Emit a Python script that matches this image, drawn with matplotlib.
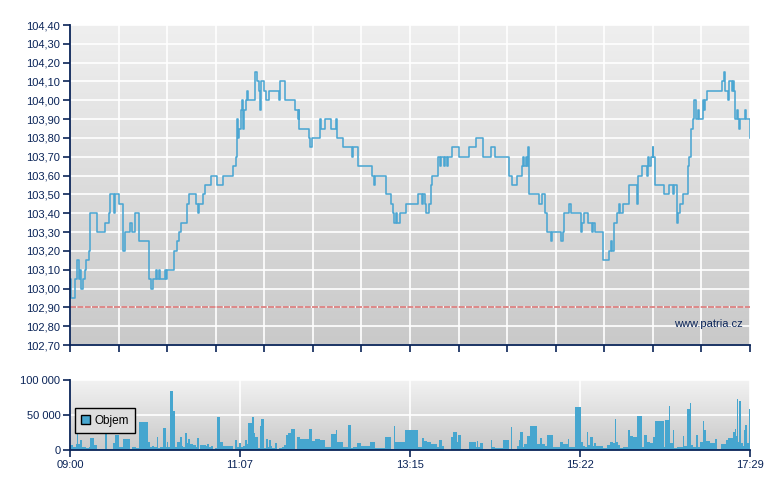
import numpy as np
import matplotlib
matplotlib.use('Agg')
import matplotlib.pyplot as plt
from matplotlib.patches import Patch

plt.rcParams['font.family'] = ['Liberation Sans', 'DejaVu Sans']

# intraday price, minutes after 09:00 and price at each change
price_t = [0, 1, 4, 5.5, 6.5, 7.5, 8.5, 9.7, 11, 12.2, 14.2, 15.2, 20.4, 26, 29.2,
           29.7, 32.7, 33.4, 36.4, 39.7, 40.9, 44.7, 46.4, 48.9, 51.6, 58.9, 60.9,
           62.1, 64.6, 65.4, 66.4, 67.1, 70.9, 71.6, 72.4, 77.8, 79.8, 81.4, 82.9,
           87.8, 88.8, 94.5, 95.8, 96.6, 99.3, 100.8, 105.8, 110.3, 114.5, 122.3,
           124, 124.8, 125.5, 126.3, 128, 129, 129.7, 130.5, 131.5, 132.2, 133.5,
           138.7, 140.2, 141.2, 142.2, 143, 145.4, 146.7, 149.2, 156.7, 157.4,
           160.9, 168.6, 170.7, 171.2, 171.6, 179.1, 179.6, 180.9, 187.1, 187.9,
           191.1, 195.4, 199.1, 199.6, 204.6, 211.3, 212.1, 215.3, 226, 227.5,
           228.3, 236.3, 240.3, 241.5, 242.5, 243.8, 245, 247, 251.2, 260.7, 263.2,
           264.5, 265.7, 266.5, 268.7, 270, 271.2, 275.7, 277, 277.7, 279.9, 280.9,
           282, 282.7, 285.9, 291.2, 298.9, 303.9, 308.9, 315.1, 318.1, 328.8,
           330.6, 334.8, 338.1, 339.3, 340, 341.1, 341.8, 342.6, 343.6, 351, 353.5,
           355.5, 356.8, 360, 361, 367.5, 368.8, 369.5, 373.7, 374.7, 382.2, 383,
           384.7, 388, 391, 391.7, 392.7, 399, 403.4, 404.7, 405.9, 407.2, 409.7,
           410.7, 411.7, 414.2, 418.4, 424.7, 425.4, 428.1, 431.6, 432.6, 433.6,
           434.6, 436.1, 436.6, 438.1, 444.4, 448.6, 451.1, 452.1, 454.1, 455.3,
           456.6, 458.6, 462.3, 463.6, 464.6, 466.1, 467, 468.3, 469.8, 471, 474,
           474.8, 475.5, 477, 487.8, 489.5, 490.5, 492.3, 493.3, 495.5, 496, 497,
           498, 499, 499.8, 501, 501.5, 505.2, 506, 508.7]
price = [103.05, 102.95, 103.05, 103.15, 103.05, 103.10, 103.00, 103.05, 103.10,
         103.15, 103.20, 103.40, 103.30, 103.35, 103.40, 103.50, 103.40, 103.50,
         103.45, 103.20, 103.30, 103.35, 103.30, 103.40, 103.25, 103.05, 103.00,
         103.05, 103.10, 103.05, 103.10, 103.05, 103.10, 103.05, 103.10, 103.20,
         103.25, 103.30, 103.35, 103.45, 103.50, 103.45, 103.40, 103.45, 103.50,
         103.55, 103.60, 103.55, 103.60, 103.65, 103.70, 103.90, 103.80, 103.85,
         103.95, 104.00, 103.85, 103.95, 104.00, 104.05, 104.00, 104.15, 104.10,
         104.05, 103.95, 104.10, 104.05, 104.00, 104.05, 104.00, 104.10, 104.00,
         103.95, 103.90, 103.95, 103.85, 103.80, 103.75, 103.80, 103.90, 103.85,
         103.90, 103.85, 103.90, 103.80, 103.75, 103.70, 103.75, 103.65, 103.60,
         103.55, 103.60, 103.50, 103.45, 103.40, 103.35, 103.40, 103.35, 103.40,
         103.45, 103.50, 103.45, 103.50, 103.45, 103.40, 103.45, 103.55, 103.60,
         103.70, 103.65, 103.70, 103.65, 103.70, 103.65, 103.70, 103.75, 103.70,
         103.75, 103.80, 103.70, 103.75, 103.70, 103.60, 103.55, 103.60, 103.65,
         103.70, 103.65, 103.70, 103.65, 103.75, 103.50, 103.45, 103.50, 103.40,
         103.30, 103.25, 103.30, 103.25, 103.30, 103.40, 103.45, 103.40, 103.30,
         103.35, 103.40, 103.35, 103.30, 103.35, 103.30, 103.15, 103.20, 103.25,
         103.20, 103.35, 103.40, 103.45, 103.40, 103.45, 103.55, 103.45, 103.60,
         103.65, 103.60, 103.70, 103.65, 103.70, 103.75, 103.70, 103.55, 103.50,
         103.55, 103.50, 103.55, 103.35, 103.40, 103.45, 103.50, 103.65, 103.70,
         103.85, 103.90, 104.00, 103.90, 103.95, 103.90, 104.00, 103.95, 104.00,
         104.05, 104.10, 104.15, 104.05, 104.00, 104.10, 104.05, 104.10, 104.05,
         103.90, 103.95, 103.90, 103.85, 103.90, 103.95, 103.90, 103.80]
prev_close = 102.90

# volume, start of each interval (minutes after 09:00) and traded amount
vol_t = [0, 2.5, 4.5, 5.5, 6, 7.5, 9, 10.5, 12, 14, 15, 18, 20.5, 26.2, 28, 30, 32.4,
         33.7, 36.7, 39.9, 44.9, 46.7, 49.1, 51.6, 58.1, 59.9, 61.4, 62.9, 64.9,
         66.1, 67.4, 69.4, 71.6, 72.4, 73.6, 74.8, 77.3, 78.6, 79.8, 82.3, 83.6,
         84.8, 86.1, 87.3, 88.6, 89.8, 92.3, 94.3, 95.3, 96.3, 97, 98.8, 101.8,
         102.8, 104.3, 105.3, 107.3, 108.5, 110.3, 112.3, 114.8, 122.3, 123.5,
         125.2, 126.7, 127.7, 129.2, 131, 132.2, 133.2, 136.2, 137.7, 138.7, 141,
         142.2, 143, 145.2, 146.7, 148.2, 149.2, 150.2, 151.2, 152.2, 153.7, 154.7,
         156.2, 156.7, 158.7, 160.2, 161.7, 163.2, 165.7, 168.4, 169.6, 172.1,
         178.9, 181.4, 183.4, 187.1, 190.9, 195.1, 199.1, 200.1, 204.1, 208.1,
         210.3, 211.6, 214.6, 217.8, 224.5, 228.5, 235.8, 240.3, 242.5, 243.2,
         250.7, 260.2, 263.7, 265, 267, 270, 274.4, 276.4, 278.7, 280.2, 284.9,
         286.4, 289.4, 290.4, 292.9, 298.4, 303.9, 304.9, 305.6, 306.9, 308.9,
         314.9, 316.1, 318.1, 324.3, 328.6, 329.8, 331.1, 334.3, 336.1, 336.8,
         338.8, 339.8, 341.8, 344.3, 349.3, 351.8, 353.3, 355.3, 356.8, 361.3,
         366.7, 368.7, 373, 373.7, 378, 382.5, 383.7, 385.5, 386.7, 388, 389.2,
         391.2, 392.2, 393.7, 399.2, 401.7, 404.2, 406.2, 407.9, 408.7, 410.4,
         411.7, 414.1, 417.9, 419.1, 421.6, 424.6, 427.9, 429.6, 431.6, 434.1,
         436.1, 437.8, 444.6, 445.3, 448.3, 449.1, 451.1, 452.1, 454.1, 458.6,
         459.6, 461.6, 464, 465, 466.5, 468.5, 470.3, 471.5, 473.5, 474.5, 476,
         479, 482.8, 484, 487.2, 491, 492.7, 496.5, 497.7, 498.5, 499, 500, 501,
         502, 503.5, 504.5, 505.5, 507, 508]
vol = [6700, 4000, 8600, 24000, 8600, 14000, 4000, 5000, 3000, 5000, 17000, 7700,
       1500, 25000, 2000, 1500, 9600, 21600, 4000, 16000, 1000, 4000, 2500, 40000,
       12000, 4000, 5800, 4000, 19000, 2500, 4000, 31000, 4000, 12000, 4000, 85000,
       56000, 4000, 12000, 18000, 5800, 4000, 24000, 9600, 16000, 8600, 7700, 4000,
       17000, 1500, 6700, 6700, 5800, 8600, 5000, 5800, 2000, 3000, 47000, 12000,
       5800, 1500, 15000, 4000, 9600, 4000, 5800, 14000, 8600, 39000, 47000, 25000,
       19000, 2500, 34000, 45000, 2500, 16000, 4000, 14000, 5800, 2500, 3400, 9600,
       1500, 36000, 2500, 4000, 7200, 21000, 25000, 30000, 1500, 19000, 16000,
       30000, 13500, 16000, 14000, 4000, 23000, 29000, 11500, 4000, 36000, 2500,
       4000, 9600, 5800, 11000, 2500, 18000, 1000, 35000, 12000, 29000, 4000,
       16800, 13500, 12000, 8600, 4000, 14000, 5800, 500, 18000, 26000, 12000,
       21600, 1000, 12000, 4000, 13500, 5000, 9600, 1000, 15000, 4000, 2500, 14000,
       1000, 33000, 1500, 5800, 14000, 26000, 4000, 8600, 20000, 35000, 8600,
       16800, 8600, 5800, 21600, 4000, 11000, 8600, 16000, 4000, 62000, 12000,
       5800, 4000, 26000, 7200, 19000, 5800, 10500, 5800, 2500, 7200, 12000, 9600,
       44000, 12000, 7200, 2500, 4000, 28000, 20000, 18000, 49000, 4000, 21600,
       12000, 9600, 19000, 42000, 4000, 43000, 63000, 10500, 29000, 2500, 4000,
       20000, 5800, 58000, 67000, 7200, 4000, 21600, 4000, 12000, 42000, 28000,
       13500, 9600, 16000, 1000, 8600, 14000, 16800, 26000, 30000, 20000, 73500,
       12000, 70000, 9600, 5800, 29000, 36000, 9600, 59000]
session_len = 509  # 09:00 - 17:29

time_labels = ['09:00', '11:07', '13:15', '15:22', '17:29']
price_ticks = np.round(np.arange(102.7, 104.41, 0.1), 2)
vol_ticks = [0, 50000, 100000]

navy = '#0a2458'
line_blue = '#4ba6d2'
bar_blue = '#46a6cf'


def gradient_bg(ax, top, bottom):
    grad = np.linspace(0, 1, 256).reshape(-1, 1)
    c0 = np.array(matplotlib.colors.to_rgb(top))
    c1 = np.array(matplotlib.colors.to_rgb(bottom))
    img = c0 + (c1 - c0) * grad[..., None]
    ax.imshow(img, extent=(0, 1, 0, 1), transform=ax.transAxes,
              aspect='auto', zorder=0, interpolation='bilinear')


def style_axes(ax):
    for s in ['top', 'right']:
        ax.spines[s].set_visible(False)
    for s in ['left', 'bottom']:
        ax.spines[s].set_color(navy)
        ax.spines[s].set_linewidth(1.3)
        ax.spines[s].set_zorder(5)
    ax.tick_params(colors=navy, labelcolor=navy, labelsize=8, length=5,
                   width=1.2, direction='out', pad=2)
    ax.set_axisbelow(True)
    ax.grid(True, color='white', linewidth=1.2, zorder=1)


fig = plt.figure(figsize=(7.8, 4.9), dpi=100)
ax1 = fig.add_axes([70 / 780, 1 - 345 / 490, 680 / 780, 320 / 490])
ax2 = fig.add_axes([70 / 780, 1 - 450 / 490, 680 / 780, 70 / 490])

# price panel
gradient_bg(ax1, '#efefef', '#c9c9c9')
t_ext = price_t + [session_len]
p_ext = price + [price[-1]]
ax1.step(t_ext, p_ext, where='post', color=line_blue, lw=1.15, zorder=3)
ax1.axhline(prev_close, color='#d46a6a', lw=1.1, ls=(0, (4, 0.8)), zorder=4)
ax1.set_xlim(0, session_len)
ax1.set_ylim(102.7, 104.4)
ax1.set_yticks(price_ticks)
ax1.set_yticklabels(['{:.2f}'.format(v).replace('.', ',') for v in price_ticks])
ax1.set_xticks(np.linspace(0, session_len, 15))
ax1.set_xticklabels([])
style_axes(ax1)
ax1.text(0.99, 0.065, 'www.patria.cz', transform=ax1.transAxes, ha='right',
         va='center', color=navy, fontsize=8, zorder=4)

# volume panel
gradient_bg(ax2, '#f2f2f2', '#c9c9c9')
edges = vol_t + [session_len]
widths = np.diff(edges)
ax2.bar(vol_t, vol, width=widths, align='edge', color=bar_blue,
        linewidth=0, zorder=3)
ax2.set_xlim(0, session_len)
ax2.set_ylim(0, 100000)
ax2.set_yticks(vol_ticks)
ax2.set_yticklabels(['{:,}'.format(v).replace(',', ' ') for v in vol_ticks])
ax2.set_xticks(np.linspace(0, session_len, 5))
ax2.set_xticklabels(time_labels)
style_axes(ax2)
leg = ax2.legend(handles=[Patch(facecolor=bar_blue, edgecolor='black',
                                label='Objem')],
                 loc='lower left', bbox_to_anchor=(0.007, 0.24), fontsize=8.5,
                 handlelength=0.75, handleheight=0.75, handletextpad=0.35,
                 fancybox=False, framealpha=1, borderpad=0.55,
                 borderaxespad=0)
leg.get_frame().set_edgecolor('black')
leg.get_frame().set_facecolor('#dedede')
leg.get_frame().set_linewidth(1.0)
leg.set_zorder(6)

fig.savefig('out.png', dpi=100)
plt.close()
